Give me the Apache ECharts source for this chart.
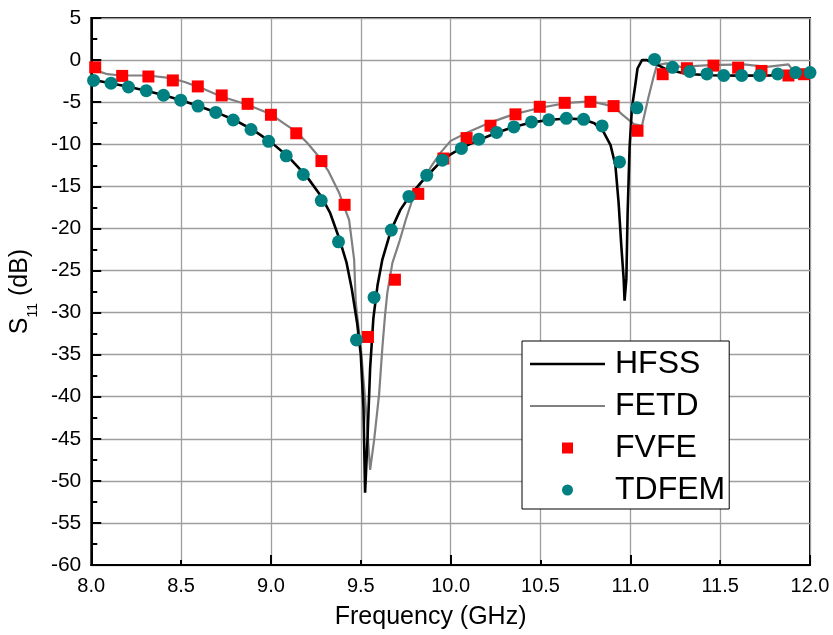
<!DOCTYPE html>
<html>
<head>
<meta charset="utf-8">
<script src="https://cdn.jsdelivr.net/npm/echarts@6/dist/echarts.min.js"></script>
<style>
html,body{margin:0;padding:0;background:#fff;}
#chart{width:833px;height:635px;}
</style>
</head>
<body>
<div id="chart"></div>
<script>
// ---- Data ----
var hfssX = [8.0,8.1,8.2,8.3,8.4,8.5,8.6,8.7,8.8,8.9,9.0,9.1,9.2,9.28,9.33,9.38,9.42,9.45,9.48,9.5,9.515,9.524,9.537,9.552,9.57,9.593,9.62,9.667,9.72,9.77,9.833,9.89,9.944,10.0,10.056,10.167,10.26,10.35,10.454,10.556,10.648,10.74,10.8,10.85,10.89,10.917,10.935,10.95,10.963,10.968,10.978,10.985,10.996,11.009,11.028,11.04,11.065,11.09,11.136,11.2,11.315,11.45,11.6,11.78,11.87,12.0];
var hfssY = [-2.3,-2.72,-3.15,-3.62,-4.15,-4.78,-5.48,-6.25,-7.15,-8.3,-9.75,-11.55,-13.85,-16.2,-18.2,-21.2,-24.0,-27.2,-31.3,-35.0,-41.3,-51.4,-45.2,-36.6,-30.7,-26.8,-23.7,-20.3,-17.8,-16.2,-14.6,-13.3,-12.1,-11.2,-10.5,-9.4,-8.6,-7.95,-7.4,-7.1,-6.95,-7.05,-7.5,-8.5,-10.1,-12.5,-17.0,-22.1,-26.0,-28.6,-26.0,-18.2,-10.4,-5.7,-2.9,-1.0,0.0,0.0,-0.4,-1.1,-1.65,-1.8,-1.85,-1.83,-1.6,-1.45];

var fetdX = [8.0,8.05,8.09,8.167,8.315,8.444,8.52,8.61,8.72,8.87,9.0,9.07,9.14,9.2,9.26,9.32,9.38,9.407,9.435,9.463,9.472,9.5,9.528,9.552,9.574,9.602,9.62,9.635,9.648,9.676,9.713,9.75,9.787,9.833,9.89,9.944,10.0,10.093,10.222,10.35,10.5,10.648,10.78,10.907,10.954,11.02,11.065,11.1,11.13,11.148,11.2,11.28,11.44,11.63,11.76,11.88,11.92,12.0];
var fetdY = [-1.0,-1.4,-1.68,-1.83,-1.83,-2.15,-2.6,-3.3,-4.3,-5.3,-6.45,-7.5,-8.5,-9.8,-11.3,-13.2,-15.8,-17.4,-19.0,-23.7,-28.8,-34.2,-41.3,-48.7,-45.2,-39.7,-34.2,-30.3,-27.6,-24.1,-21.7,-19.0,-16.6,-14.7,-12.7,-11.0,-9.6,-8.6,-7.4,-6.45,-5.67,-5.08,-4.9,-5.5,-6.45,-7.6,-7.8,-4.5,-1.95,-0.6,-0.4,-0.8,-0.6,-0.5,-0.8,-0.5,-1.7,-1.7];

var fvfeX = [8.022,8.172,8.318,8.454,8.593,8.726,8.87,9.0,9.141,9.281,9.41,9.54,9.69,9.82,9.96,10.089,10.222,10.361,10.496,10.635,10.778,10.907,11.04,11.18,11.315,11.463,11.6,11.73,11.88,11.967];
var fvfeY = [-0.86,-1.88,-1.95,-2.42,-3.13,-4.2,-5.2,-6.5,-8.7,-12.0,-17.2,-32.9,-26.1,-15.9,-11.7,-9.27,-7.8,-6.45,-5.55,-5.08,-4.96,-5.47,-8.4,-1.68,-0.97,-0.66,-0.9,-1.29,-1.83,-1.68];

var tdfemX = [8.013,8.11,8.207,8.306,8.402,8.498,8.594,8.693,8.79,8.889,8.987,9.085,9.18,9.28,9.376,9.476,9.574,9.67,9.768,9.867,9.954,10.06,10.157,10.256,10.352,10.45,10.546,10.644,10.74,10.843,10.94,11.037,11.135,11.235,11.33,11.426,11.52,11.62,11.72,11.82,11.92,12.0];
var tdfemY = [-2.42,-2.74,-3.2,-3.64,-4.18,-4.77,-5.47,-6.22,-7.12,-8.25,-9.66,-11.38,-13.6,-16.7,-21.6,-33.25,-28.2,-20.2,-16.2,-13.7,-11.9,-10.5,-9.4,-8.6,-7.94,-7.35,-7.1,-6.92,-7.04,-7.82,-12.1,-5.67,0.08,-0.86,-1.36,-1.64,-1.83,-1.83,-1.83,-1.64,-1.48,-1.48];

var seriesNames = ['HFSS','FETD','FVFE','TDFEM'];
var xTitle = 'Frequency (GHz)';

function zip(xs, ys){ var out=[]; for (var i=0;i<xs.length;i++) out.push([xs[i], ys[i]]); return out; }

var FONT = '"Liberation Sans", Arial, Helvetica, sans-serif';
var chart = echarts.init(document.getElementById('chart'), null, {renderer:'canvas'});

var option = {
  backgroundColor: '#fff',
  animation: false,
  textStyle: {fontFamily: FONT},
  grid: {left: 90, right: 23, top: 18, bottom: 63, show: true, borderColor: '#000', borderWidth: 2, backgroundColor: 'transparent'},
  legend: {
    orient: 'vertical', left: 522, top: 341,
    backgroundColor: '#fff', borderColor: '#000', borderWidth: 1, borderRadius: 0,
    padding: [7, 4, 3, 8],
    itemWidth: 75, itemHeight: 11, itemGap: 10,
    textStyle: {fontSize: 32, lineHeight: 32, color: '#000', fontFamily: FONT, padding: [0,0,0,5]},
    data: [
      {name: seriesNames[0], icon: 'path://M0,0H75V2.4H0Z', itemStyle: {color:'#000', borderWidth:0}},
      {name: seriesNames[1], icon: 'path://M0,0H75V2.2H0Z', itemStyle: {color:'#808080', borderWidth:0}},
      {name: seriesNames[2], icon: 'path://M0,0H10V10H0Z', itemStyle: {color:'#ff0000', borderWidth:0}},
      {name: seriesNames[3], icon: 'circle', itemStyle: {color:'#008080', borderWidth:0}}
    ]
  },
  xAxis: [{
    type: 'value', min: 8, max: 12, interval: 0.5,
    name: xTitle, nameLocation: 'middle', nameGap: 40,
    nameTextStyle: {fontSize: 25, color: '#000', fontFamily: FONT, padding: [0, 40, 0, 0]},
    axisLine: {show: true, onZero: false, lineStyle: {color: '#000', width: 2}},
    axisTick: {show: true, inside: true, length: 5, lineStyle: {color: '#000', width: 2}},
    axisLabel: {fontSize: 20, color: '#000', margin: 11, fontFamily: FONT, formatter: function(v){return v.toFixed(1);}},
    splitLine: {show: true, lineStyle: {color: '#9e9e9e', width: 1.3}}
  },{
    type: 'value', min: 8, max: 12, interval: 1, position: 'bottom',
    axisLine: {show: false, onZero: false},
    axisTick: {show: true, inside: true, length: 10, lineStyle: {color: '#000', width: 2}},
    axisLabel: {show: false},
    splitLine: {show: false}
  }],
  yAxis: {
    type: 'value', min: -60, max: 5, interval: 5,
    name: '{a|S}{b|11}{a| (dB)}', nameLocation: 'middle', nameGap: 45,
    nameTextStyle: {
      color: '#000', fontFamily: FONT,
      rich: {
        a: {fontSize: 25, lineHeight: 26, verticalAlign: 'top', color: '#000', fontFamily: FONT},
        b: {fontSize: 14, lineHeight: 14, padding: [18,0,0,0], verticalAlign: 'top', color: '#000', fontFamily: FONT}
      }
    },
    axisLine: {show: true, onZero: false, lineStyle: {color: '#000', width: 2}},
    axisTick: {show: true, inside: true, length: 10, lineStyle: {color: '#000', width: 2}},
    minorTick: {show: true, splitNumber: 2, length: 6, lineStyle: {color: '#000', width: 2}},
    axisLabel: {fontSize: 21, color: '#000', margin: 10, fontFamily: FONT},
    splitLine: {show: true, lineStyle: {color: '#9e9e9e', width: 1.3}}
  },
  series: [
    {name: seriesNames[0], type: 'line', data: zip(hfssX, hfssY), symbol: 'none', smooth: false, z: 4,
     lineStyle: {color: '#000', width: 2.6}, itemStyle: {color: '#000'}},
    {name: seriesNames[1], type: 'line', data: zip(fetdX, fetdY), symbol: 'none', smooth: false, z: 3,
     lineStyle: {color: '#808080', width: 2.2}, itemStyle: {color: '#808080'}},
    {name: seriesNames[2], type: 'scatter', data: zip(fvfeX, fvfeY), symbol: 'rect', symbolSize: 12, z: 5,
     itemStyle: {color: '#ff0000', opacity: 1}},
    {name: seriesNames[3], type: 'scatter', data: zip(tdfemX, tdfemY), symbol: 'circle', symbolSize: 13, z: 6,
     itemStyle: {color: '#008080', opacity: 1}}
  ]
};
chart.setOption(option);
</script>
</body>
</html>
